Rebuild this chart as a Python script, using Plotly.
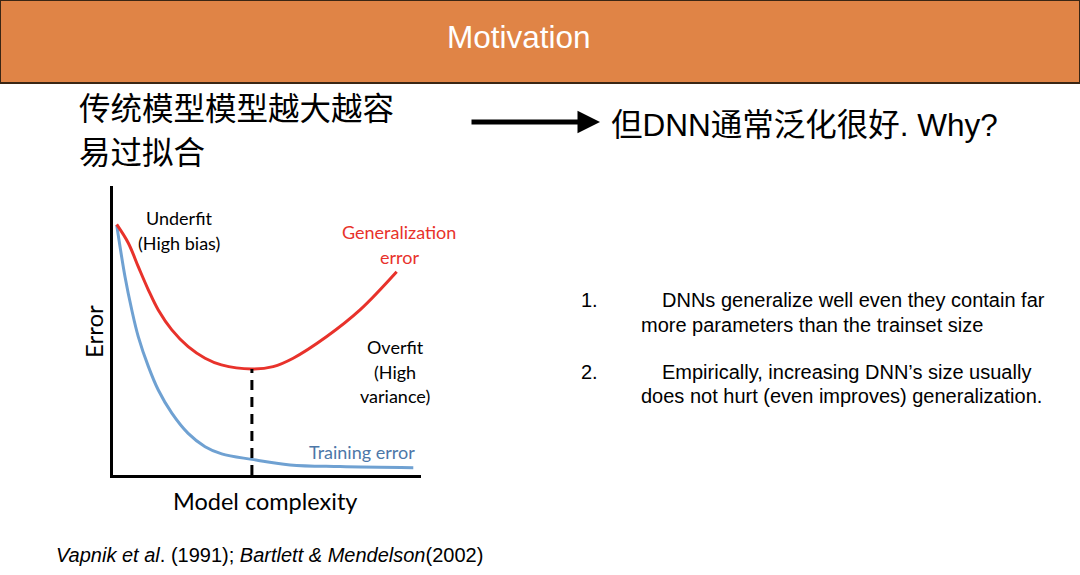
import plotly.graph_objects as go

# ---- data (model complexity vs error) ----
gen_x = [0.12, 0.50, 0.82, 1.15, 1.47, 1.91, 2.44, 2.99, 3.52, 4.51, 5.20, 5.85, 6.94, 8.02, 9.21]
gen_y = [8.67, 8.02, 7.21, 6.40, 5.71, 5.02, 4.44, 4.04, 3.81, 3.67, 3.75, 4.04, 4.79, 5.71, 7.03]
train_x = [0.12, 0.39, 0.61, 0.82, 1.15, 1.47, 1.91, 2.44, 2.99, 3.53, 4.51, 5.75, 7.37, 9.75]
train_y = [8.65, 6.86, 5.71, 4.79, 3.75, 2.94, 2.14, 1.44, 0.98, 0.73, 0.54, 0.35, 0.29, 0.25]
opt_x = [4.51, 4.51]
opt_y = [0.0, 3.67]

W, H = 1080, 575
def px(x):
    return x / W
def py(y):
    return 1 - y / H

RED = "#E8322B"
BLUE = "#6FA1D2"
BLUE_TXT = "#4D77A8"
CHART_FONT = "Lato, Open Sans, sans-serif"
SLIDE_FONT = "Liberation Sans, Arial, Noto Sans CJK SC, sans-serif"

fig = go.Figure()
fig.add_trace(go.Scatter(x=train_x, y=train_y, mode="lines",
                         line=dict(color=BLUE, width=3, shape="spline", smoothing=1.0),
                         hoverinfo="skip", showlegend=False))
fig.add_trace(go.Scatter(x=gen_x, y=gen_y, mode="lines",
                         line=dict(color=RED, width=3, shape="spline", smoothing=1.0),
                         hoverinfo="skip", showlegend=False))
fig.add_trace(go.Scatter(x=opt_x, y=opt_y, mode="lines",
                         line=dict(color="black", width=3, dash="10px,7px"),
                         hoverinfo="skip", showlegend=False))

fig.update_xaxes(domain=[px(113), px(421)], range=[0, 10], showline=True, linecolor="black",
                 linewidth=3, showgrid=False, zeroline=False, showticklabels=False, ticks="")
fig.update_yaxes(domain=[py(475), py(186)], range=[0, 10], showline=True, linecolor="black",
                 linewidth=3, showgrid=False, zeroline=False, showticklabels=False, ticks="")

ann = []
def text(x, y, s, size, color="black", family=CHART_FONT, xanchor="center", angle=0):
    ann.append(dict(x=px(x), y=py(y), xref="paper", yref="paper", text=s, showarrow=False,
                    xanchor=xanchor, yanchor="middle", textangle=angle,
                    font=dict(size=size, color=color, family=family)))

# chart labels
text(93, 332, "Error", 24, angle=-90)
text(265, 501, "Model complexity", 23.5)
text(179, 218, "Underfit", 18)
text(179, 243, "(High bias)", 18)
text(399, 232, "Generalization", 18, color=RED)
text(399, 257, "error", 18, color=RED)
text(395, 347, "Overfit", 18)
text(395, 372, "(High", 18)
text(395, 396, "variance)", 18)
text(362, 452, "Training error", 18, color=BLUE_TXT)

# slide texts
text(519, 37, "Motivation", 31.5, color="white", family=SLIDE_FONT)
text(77, 106, "传统模型模型越大越容", 31.5, family="Noto Sans CJK SC", xanchor="left")
text(77, 150, "易过拟合", 31.5, family="Noto Sans CJK SC", xanchor="left")
text(609, 125, "但DNN通常泛化很好. Why?", 31.5, family=SLIDE_FONT, xanchor="left")
text(579, 300, "1.", 20, family=SLIDE_FONT, xanchor="left")
text(660, 300, "DNNs generalize well even they contain far", 20, family=SLIDE_FONT, xanchor="left")
text(639, 325, "more parameters than the trainset size", 20, family=SLIDE_FONT, xanchor="left")
text(579, 372, "2.", 20, family=SLIDE_FONT, xanchor="left")
text(660, 372, "Empirically, increasing DNN’s size usually", 20, family=SLIDE_FONT, xanchor="left")
text(639, 396, "does not hurt (even improves) generalization.", 20, family=SLIDE_FONT, xanchor="left")
text(54, 555, "<i>Vapnik et al</i>. (1991); <i>Bartlett &amp; Mendelson</i>(2002)", 20,
     family=SLIDE_FONT, xanchor="left")

# arrow
ann.append(dict(x=px(600), y=py(122), xref="paper", yref="paper", ax=-130, ay=0,
                text="", showarrow=True, arrowhead=2, arrowsize=0.9, arrowwidth=5,
                arrowcolor="black", standoff=0))

shapes = [
    dict(type="rect", xref="paper", yref="paper", x0=0, x1=1, y0=py(83), y1=1,
         fillcolor="#E08446", line=dict(color="#3A2614", width=2), layer="below"),
]

fig.update_layout(width=W, height=H, margin=dict(l=0, r=0, t=0, b=0),
                  paper_bgcolor="white", plot_bgcolor="white",
                  annotations=ann, shapes=shapes, showlegend=False)

fig.write_html("out.html", config={"displayModeBar": False},
               post_script="document.body.style.margin='0';document.body.style.overflow='hidden';")
